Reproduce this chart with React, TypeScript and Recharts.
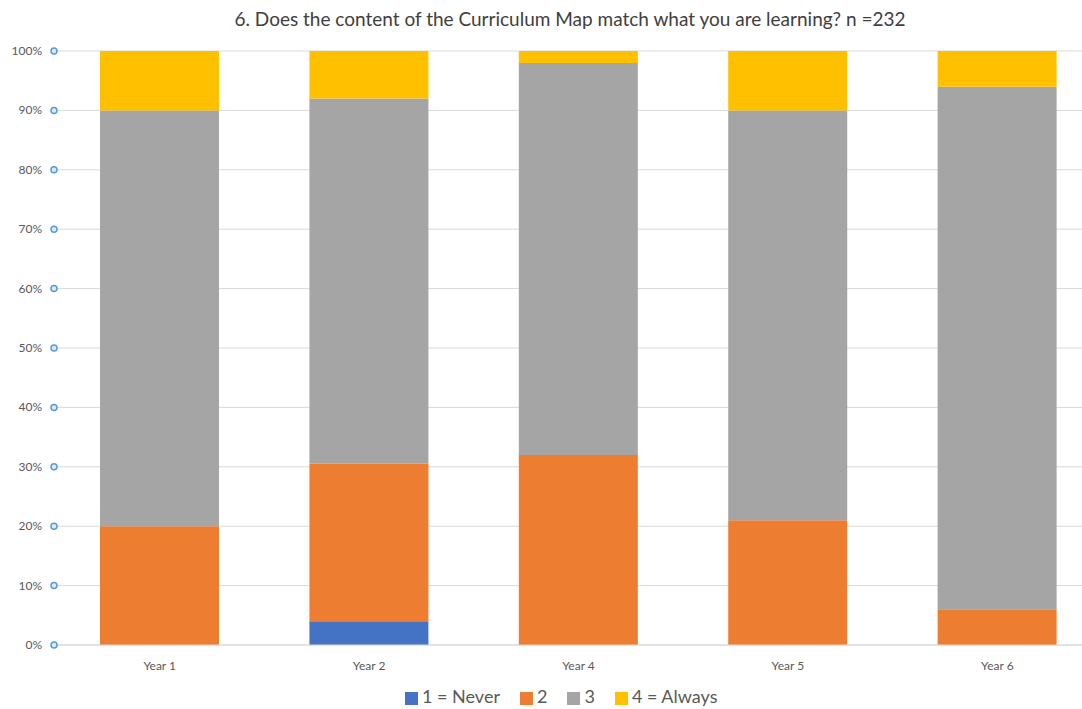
import React from 'react'
import { BarChart, Bar, XAxis, YAxis, CartesianGrid, Legend } from 'recharts'

const years = ['Year 1', 'Year 2', 'Year 4', 'Year 5', 'Year 6']
const never = [0, 4, 0, 0, 0]
const two = [20, 26.5, 32, 21, 6]
const three = [70, 61.5, 66, 69, 88]
const always = [10, 8, 2, 10, 6]
const yTicks = [0, 10, 20, 30, 40, 50, 60, 70, 80, 90, 100]

const data = years.map((year, i) => ({
  year,
  never: never[i],
  two: two[i],
  three: three[i],
  always: always[i],
}))

const FONT = 'Lato, "Open Sans", sans-serif'

// percent label with a small round marker sitting at the start of each gridline
const PercentTick = (props: any) => {
  const { x, y, payload } = props
  return (
    <g>
      <circle cx={x + 7} cy={y} r={3} fill="#DDEBF7" stroke="#5B9BD5" strokeWidth={1.5} />
      <text x={x - 5} y={y} dy={4} textAnchor="end" fontSize={12} fill="#595959" fontFamily={FONT}>
        {payload.value}%
      </text>
    </g>
  )
}

export default function App() {
  return (
    <div
      style={{
        position: 'absolute',
        left: 0,
        top: 0,
        width: 1082,
        height: 709,
        overflow: 'hidden',
        background: '#fff',
        fontFamily: FONT,
      }}
    >
      <div
        style={{
          position: 'absolute',
          top: 7,
          left: 0,
          width: 1140,
          textAlign: 'center',
          fontSize: 19,
          color: '#404040',
        }}
      >
        6. Does the content of the Curriculum Map match what you are learning? n =232
      </div>
      <BarChart
        width={1110}
        height={709}
        data={data}
        margin={{ top: 51, right: 8, left: 0, bottom: 12 }}
        barCategoryGap="21.5%"
      >
        <CartesianGrid vertical={false} stroke="#D9D9D9" />
        <YAxis
          width={55}
          domain={[0, 100]}
          ticks={yTicks}
          axisLine={false}
          tickLine={false}
          tick={<PercentTick />}
          interval={0}
        />
        <XAxis
          dataKey="year"
          axisLine={{ stroke: '#D9D9D9' }}
          tickLine={false}
          tick={{ fontSize: 12, fill: '#595959', fontFamily: FONT }}
          tickMargin={10}
        />
        <Legend
          verticalAlign="bottom"
          align="left"
          iconType="square"
          iconSize={13}
          wrapperStyle={{ left: 405, bottom: 2, width: 360, fontSize: 18, color: '#595959' }}
          formatter={(value) => (
            <span style={{ color: '#595959', paddingRight: 10 }}>{value}</span>
          )}
        />
        <Bar dataKey="never" name="1 = Never" stackId="a" fill="#4472C4" isAnimationActive={false} />
        <Bar dataKey="two" name="2" stackId="a" fill="#ED7D31" isAnimationActive={false} />
        <Bar dataKey="three" name="3" stackId="a" fill="#A5A5A5" isAnimationActive={false} />
        <Bar dataKey="always" name="4 = Always" stackId="a" fill="#FFC000" isAnimationActive={false} />
      </BarChart>
    </div>
  )
}
